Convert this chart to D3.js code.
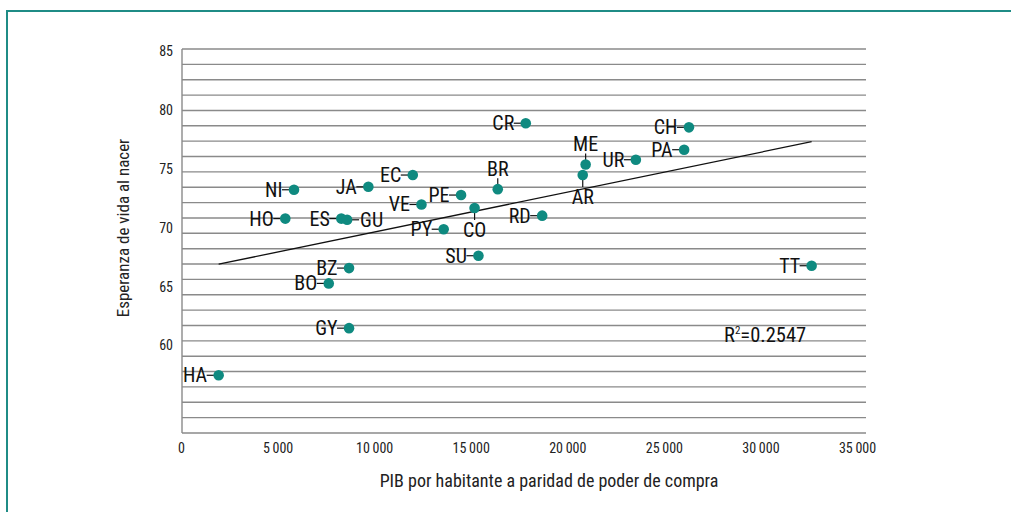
<!DOCTYPE html>
<html>
<head>
<meta charset="utf-8">
<script src="https://cdn.jsdelivr.net/npm/d3@7"></script>
<style>
  html, body { margin: 0; padding: 0; background: #fff; overflow: hidden; }
  text { font-family: "Roboto Condensed", "Liberation Sans Narrow", "DejaVu Sans Condensed", "Roboto", sans-serif; }
</style>
</head>
<body>
<div id="graph"></div>
<script>
// country codes, GDP per head (PPP) and life expectancy
const countries = ["NI","HO","JA","EC","ES","GU","VE","PE","CO","PY","CR","CH","ME","AR","UR","PA","BR","RD","TT","SU","BZ","BO","GY","HA"];
const gdp       = [5850, 5400, 9700, 12000, 8300, 8600, 12450, 14500, 15200, 13600, 17850, 26300, 20950, 20800, 23550, 26050, 16400, 18700, 32650, 15400, 8700, 7650, 8700, 1950];
const lifeExp   = [73.05, 70.6, 73.3, 74.3, 70.6, 70.5, 71.8, 72.6, 71.5, 69.7, 78.7, 78.35, 75.2, 74.3, 75.6, 76.45, 73.1, 70.85, 66.6, 67.45, 66.4, 65.1, 61.3, 57.3];
// where the label sits relative to its dot
const labelSide = ["left","left","left","left","left","right","left","left","below","left","left","left","above","below","left","left","above","left","left","left","left","left","left","left"];

const xTicks = [0, 5000, 10000, 15000, 20000, 25000, 30000, 35000];
const yTicks = [60, 65, 70, 75, 80, 85];
const r2Label = "0.2547";

const width = 1011, height = 512;
const teal = "#1f8c86";
const dotColor = "#0f8a80";
const gridColor = "#8a8a8a";

let svg = d3.select("#graph")
  .append("svg")
  .attr("width", width)
  .attr("height", height);

// frame, runs off the right and bottom edge
svg.append("rect")
  .attr("x", 7).attr("y", 11)
  .attr("width", width + 20).attr("height", height + 20)
  .attr("fill", "#fff")
  .attr("stroke", teal)
  .attr("stroke-width", 2);

let plot = { left: 182, right: 866, top: 49, bottom: 433 };

let x = d3.scaleLinear().domain([0, 35000]).range([181, 857]);
let y = d3.scaleLinear().domain([52.4, 85]).range([plot.bottom, plot.top]);

// 25 bands of horizontal rules
let gridVals = d3.range(0, 26).map(function(i) { return y.invert(plot.bottom - i * (plot.bottom - plot.top) / 25); });

svg.append("g")
  .selectAll("line")
  .data(gridVals)
  .enter()
  .append("line")
  .attr("x1", plot.left)
  .attr("x2", plot.right)
  .attr("y1", function(d) { return y(d); })
  .attr("y2", function(d) { return y(d); })
  .attr("stroke", gridColor)
  .attr("stroke-width", 1.4);

svg.append("line")
  .attr("x1", plot.left).attr("x2", plot.left)
  .attr("y1", plot.top).attr("y2", plot.bottom)
  .attr("stroke", gridColor)
  .attr("stroke-width", 1.4);

// axes
let xAxis = svg.append("g")
  .attr("transform", "translate(0," + 440 + ")")
  .call(d3.axisBottom(x).tickValues(xTicks).tickSize(0)
    .tickFormat(function(d) { return d === 0 ? "0" : d3.format(",")(d).replace(",", "\u2009"); }));
xAxis.select(".domain").remove();
xAxis.selectAll("text").attr("font-size", 14).attr("fill", "#222").attr("font-family", null);

let yAxis = svg.append("g")
  .attr("transform", "translate(" + 173 + ",2)")
  .call(d3.axisLeft(y).tickValues(yTicks).tickSize(0).tickPadding(0));
yAxis.select(".domain").remove();
yAxis.selectAll("text").attr("font-size", 14).attr("fill", "#222").attr("font-family", null);

// axis titles
svg.append("text")
  .attr("x", 549).attr("y", 487)
  .attr("text-anchor", "middle")
  .attr("font-size", 18)
  .attr("fill", "#222")
  .text("PIB por habitante a paridad de poder de compra");

svg.append("text")
  .attr("transform", "translate(129,228) rotate(-90)")
  .attr("text-anchor", "middle")
  .attr("font-size", 17)
  .attr("fill", "#222")
  .text("Esperanza de vida al nacer");

// least squares trend line
let data = countries.map(function(c, i) { return { name: c, x: gdp[i], y: lifeExp[i], side: labelSide[i] }; });
let mx = d3.mean(data, function(d) { return d.x; });
let my = d3.mean(data, function(d) { return d.y; });
let slope = d3.sum(data, function(d) { return (d.x - mx) * (d.y - my); }) /
            d3.sum(data, function(d) { return (d.x - mx) * (d.x - mx); });
let x0 = d3.min(gdp), x1 = d3.max(gdp);

svg.append("line")
  .attr("x1", x(x0)).attr("y1", y(my + slope * (x0 - mx)))
  .attr("x2", x(x1)).attr("y2", y(my + slope * (x1 - mx)))
  .attr("stroke", "#111")
  .attr("stroke-width", 1.3);

// leaders, dots, labels
let node = svg.append("g")
  .selectAll("g")
  .data(data)
  .enter()
  .append("g")
  .attr("transform", function(d) { return "translate(" + x(d.x) + "," + y(d.y) + ")"; });

node.append("line")
  .attr("x1", 0).attr("y1", 0)
  .attr("x2", function(d) {
    if (d.side === "left") return -12;
    if (d.side === "right") return 12;
    return 0;
  })
  .attr("y2", function(d) {
    if (d.side === "above") return -11;
    if (d.side === "below") return 12;
    return 0;
  })
  .attr("stroke", "#111")
  .attr("stroke-width", 1.2);

node.append("circle")
  .attr("r", 5.3)
  .attr("fill", dotColor);

node.append("text")
  .text(function(d) { return d.name; })
  .attr("font-size", 20)
  .attr("fill", "#111")
  .attr("text-anchor", function(d) {
    if (d.side === "left") return "end";
    if (d.side === "right") return "start";
    return "middle";
  })
  .attr("x", function(d) {
    if (d.side === "left") return -11.5;
    if (d.side === "right") return 13;
    return 0;
  })
  .attr("y", function(d) {
    if (d.side === "above") return -13;
    if (d.side === "below") return 29;
    return 7;
  });

// R squared
let r2 = svg.append("text")
  .attr("x", 724).attr("y", 342)
  .attr("font-size", 20.5)
  .attr("fill", "#111");
r2.append("tspan").text("R");
r2.append("tspan").attr("font-size", 11).attr("dy", -8).text("2");
r2.append("tspan").attr("dy", 8).text("=" + r2Label);
</script>
</body>
</html>
